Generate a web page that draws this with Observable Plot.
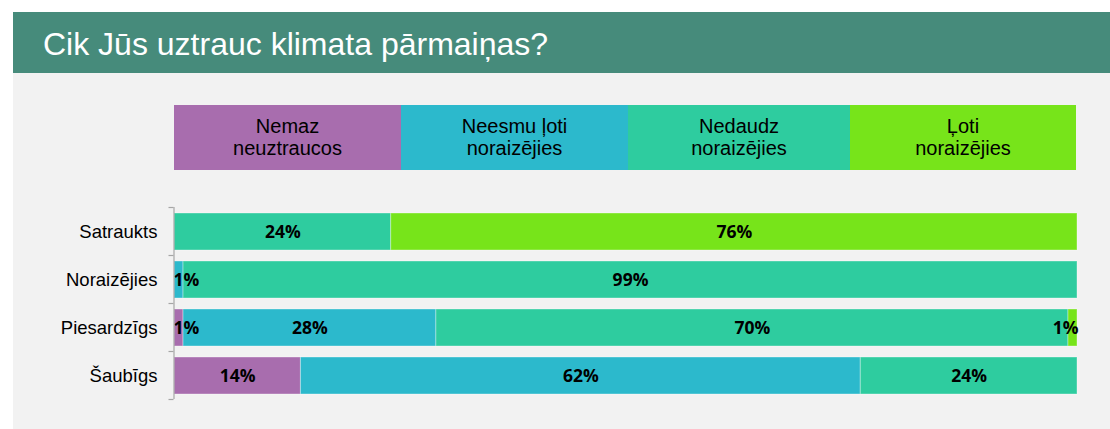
<!DOCTYPE html>
<html>
<head>
<meta charset="utf-8">
<script src="https://cdn.jsdelivr.net/npm/d3@7"></script>
<script src="https://cdn.jsdelivr.net/npm/@observablehq/plot@0.6"></script>
<style>
  html, body { margin: 0; padding: 0; background: #ffffff; }
  body { width: 1110px; height: 429px; position: relative; overflow: hidden; font-family: "Liberation Sans", Arial, sans-serif; }
  #header { position: absolute; left: 13px; top: 12px; width: 1097px; height: 61px; background: #468B7B; }
  #title { position: absolute; left: 30px; top: 14px; color: #ffffff; font-size: 32px; line-height: normal; white-space: nowrap; }
  #panel { position: absolute; left: 13px; top: 73px; width: 1097px; height: 356px; background: #F2F2F2; }
  #legend { position: absolute; left: 174px; top: 105px; height: 65px; display: flex; }
  .lg { height: 65px; display: flex; align-items: center; justify-content: center; text-align: center;
        font-size: 20px; line-height: 21.6px; color: #000; white-space: pre-line; }
  #chart { position: absolute; left: 14px; top: 195px; }
</style>
</head>
<body>
<div id="header"><div id="title"></div></div>
<div id="panel"></div>
<div id="legend"></div>
<div id="chart"></div>
<script>
const title = "Cik Jūs uztrauc klimata pārmaiņas?";
const categories = ["Satraukts", "Noraizējies", "Piesardzīgs", "Šaubīgs"];
const responses = ["Nemaz neuztraucos", "Neesmu ļoti noraizējies", "Nedaudz noraizējies", "Ļoti noraizējies"];
const legendLabels = ["Nemaz\nneuztraucos", "Neesmu ļoti\nnoraizējies", "Nedaudz\nnoraizējies", "Ļoti\nnoraizējies"];
const colors = ["#A86DAE", "#2CB9CC", "#2ECC9F", "#77E41A"];
const legendWidths = [227, 227, 222, 226];
const nemazNeuztraucos = [0, 0, 1, 14];
const neesmuLotiNoraizejies = [0, 1, 28, 62];
const nedaudzNoraizejies = [24, 99, 70, 24];
const lotiNoraizejies = [76, 0, 1, 0];
const series = [nemazNeuztraucos, neesmuLotiNoraizejies, nedaudzNoraizejies, lotiNoraizejies];

document.getElementById("title").textContent = title;

// legend
const legend = document.getElementById("legend");
responses.forEach((r, i) => {
  const d = document.createElement("div");
  d.className = "lg";
  d.style.width = legendWidths[i] + "px";
  d.style.background = colors[i];
  d.textContent = legendLabels[i];
  legend.appendChild(d);
});

// stacked rows
const rows = [];
categories.forEach((c, ci) => {
  let acc = 0;
  responses.forEach((r, ri) => {
    const v = series[ri][ci];
    if (v > 0) rows.push({cat: c, resp: r, value: v, x1: acc, x2: acc + v});
    acc += v;
  });
});
const mid = rows.filter(d => d.value >= 3);
const smallStart = rows.filter(d => d.value < 3 && d.x1 === 0);
const smallEnd = rows.filter(d => d.value < 3 && d.x1 !== 0);

const labelStyle = {fontFamily: "'Open Sans', sans-serif", fontWeight: "bold", fontSize: 17.5, fill: "#000"};

const chart = Plot.plot({
  width: 1096,
  height: 214,
  marginLeft: 160,
  marginRight: 33,
  marginTop: 12,
  marginBottom: 10,
  style: {background: "transparent", fontFamily: "'Liberation Sans', Arial, sans-serif", color: "#000"},
  x: {domain: [0, 100], axis: null},
  y: {domain: categories, paddingInner: 0.23, paddingOuter: 0.115},
  color: {domain: responses, range: colors},
  marks: [
    Plot.barX(rows, {x1: "x1", x2: "x2", y: "cat", fill: "resp", stroke: "#ffffff", strokeOpacity: 0.35, strokeWidth: 1}),
    Plot.text(mid, {x: d => (d.x1 + d.x2) / 2, y: "cat", text: d => d.value + "%", ...labelStyle}),
    Plot.text(smallStart, {x: "x1", y: "cat", text: d => d.value + "%", textAnchor: "start", dx: -1, ...labelStyle}),
    Plot.text(smallEnd, {x: "x2", y: "cat", text: d => d.value + "%", textAnchor: "end", dx: 1, ...labelStyle}),
    Plot.ruleX([0], {stroke: "#A6A6A6", strokeWidth: 1.2, dx: -0.5}),
    Plot.axisY({tickSize: 0, tickPadding: 17, fontSize: 18.5, label: null, fill: "#000"})
  ]
});
document.getElementById("chart").appendChild(chart);

// category separator ticks on the axis, from the y scale
const ys = chart.scale("y");
const x0 = chart.scale("x").apply(0) - 0.5;
const gap = (ys.step - ys.bandwidth) / 2;
const bounds = categories.map(c => ys.apply(c) - gap);
bounds.push(ys.apply(categories[categories.length - 1]) + ys.bandwidth + gap);
d3.select(chart).append("g")
  .attr("stroke", "#A6A6A6").attr("stroke-width", 1.2)
  .selectAll("line").data(bounds).join("line")
  .attr("x1", x0 - 5).attr("x2", x0).attr("y1", d => d).attr("y2", d => d);
</script>
</body>
</html>
